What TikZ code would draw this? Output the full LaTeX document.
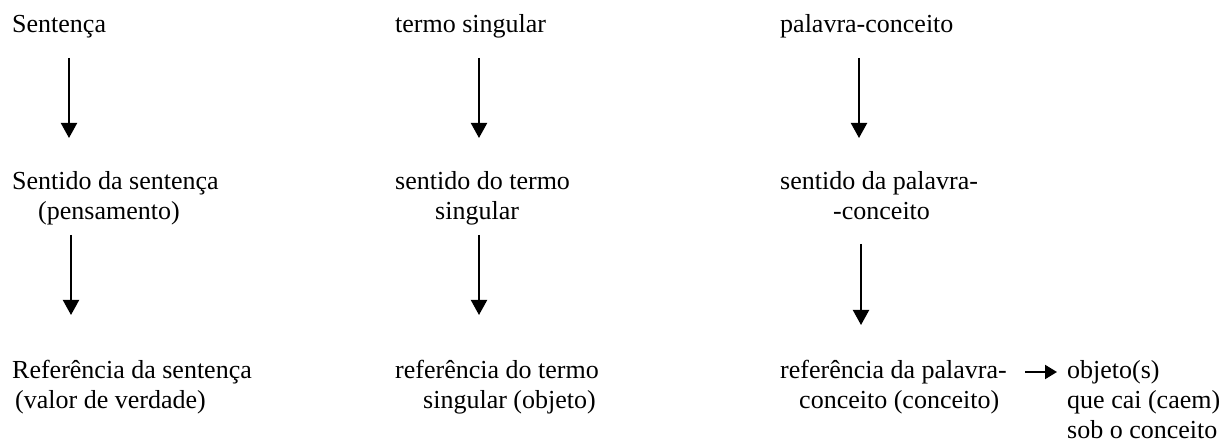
\documentclass[tikz,border=0pt]{standalone}
\usepackage{fontspec}
\setmainfont{Liberation Serif}
\usetikzlibrary{arrows.meta,calc}
\begin{document}
\begin{tikzpicture}[x=1pt,y=-1pt,
  lbl/.style={anchor=base west,inner sep=0pt,align=left,font=\fontsize{26}{30}\selectfont},
  arr/.style={line width=2pt,-{Triangle[length=15pt,width=16pt]}},
  sarr/.style={line width=2pt,-{Triangle[length=12pt,width=14pt]}}]
\useasboundingbox (0,0) rectangle (1225,443);
% column 1 (base anchor = baseline of last line)
\node[lbl] (s1) at (12,33) {Sentença};
\node[lbl] (s2) at (12,220) {Sentido da sentença\\\hspace*{26pt}(pensamento)};
\node[lbl] (s3) at (12,408) {Referência da sentença\\\hspace*{3pt}(valor de verdade)};
% column 2
\node[lbl] (t1) at (395,33) {termo singular};
\node[lbl] (t2) at (395,220) {sentido do termo\\\hspace*{40pt}singular};
\node[lbl] (t3) at (395,408) {referência do termo\\\hspace*{28pt}singular (objeto)};
% column 3
\node[lbl] (p1) at (780,33) {palavra-conceito};
\node[lbl] (p2) at (780,220) {sentido da palavra-\\\hspace*{53pt}-conceito};
\node[lbl] (p3) at (780,408) {referência da palavra-\\\hspace*{19pt}conceito (conceito)};
\node[lbl] (o) at (1067,438) {objeto(s)\\que cai (caem)\\sob o conceito};
% arrows
\draw[arr] ($(s1.base west)+(57,25)$) -- ($(s2.base west)+(57,-82)$);
\draw[arr] ($(s2.base west)+(59,15)$) -- ($(s3.base west)+(59,-93)$);
\draw[arr] ($(t1.base west)+(84,25)$) -- ($(t2.base west)+(84,-82)$);
\draw[arr] ($(t2.base west)+(84,15)$) -- ($(t3.base west)+(84,-93)$);
\draw[arr] ($(p1.base west)+(79,25)$) -- ($(p2.base west)+(79,-82)$);
\draw[arr] ($(p2.base west)+(81,24)$) -- ($(p3.base west)+(81,-83)$);
\draw[sarr] ($(p3.base west)+(245,-36)$) -- ($(o.base west)+(-10,-66)$);
\end{tikzpicture}
\end{document}
